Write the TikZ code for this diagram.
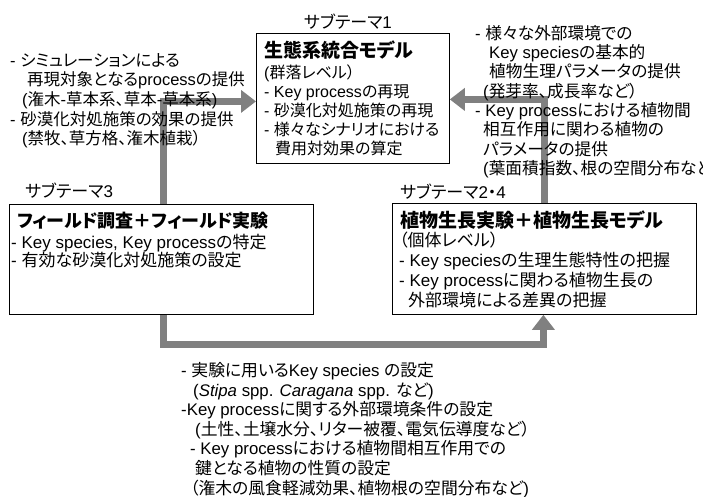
\documentclass[tikz,border=0pt]{standalone}
\usepackage{fontspec}
\usetikzlibrary{arrows.meta,backgrounds}
\setmainfont{Liberation Sans}
\newfontfamily\jpfont[RawFeature=+palt]{Noto Sans CJK JP}
\newfontfamily\latinfont{Liberation Sans}
\XeTeXinterchartokenstate=1
\newXeTeXintercharclass\cjkcls
\newcount\cjkc
\def\setcjkrange#1#2{\cjkc=#1 \loop\XeTeXcharclass\cjkc=\cjkcls \ifnum\cjkc<#2 \advance\cjkc by 1 \repeat}
\setcjkrange{"3000}{"30FF}
\setcjkrange{"4E00}{"9FFF}
\setcjkrange{"FF00}{"FFEF}
\XeTeXinterchartoks 0 \cjkcls = {\jpfont}
\XeTeXinterchartoks 4095 \cjkcls = {\jpfont}
\XeTeXinterchartoks \cjkcls 0 = {\latinfont}
\XeTeXinterchartoks \cjkcls 4095 = {\latinfont}
\tikzset{
  box/.style={draw=black, line width=0.8pt, fill=white, inner sep=0pt, anchor=north west},
  flow/.style={draw=gray, line width=7pt, -{Triangle[length=15pt,width=22pt]}},
  txt/.style={inner sep=0pt, anchor=base west, align=left},
  ttl/.style={inner sep=0pt, anchor=base west, align=left, font=\fontsize{19}{22}\selectfont\bfseries},
  sub/.style={inner sep=0pt, anchor=base west, font=\fontsize{17}{20}\selectfont},
}
\begin{document}
\begin{tikzpicture}[x=1pt,y=-1pt]
\useasboundingbox (0,0) rectangle (703,496);
% boxes
\node[box, minimum width=193pt, minimum height=130pt] (b1) at (256,33) {};
\node[box, minimum width=304pt, minimum height=110pt] (b3) at (9,204) {};
\node[box, minimum width=304pt, minimum height=111pt] (b2) at (392,203) {};
% connectors
\begin{scope}[on background layer]
\fill[white] (0,0) rectangle (703,496);
\draw[flow] ([xshift=2pt]b3.north) |- ([yshift=-3pt]b1.west);
\draw[flow] (b2.north) |- ([yshift=-1pt]b1.east);
\draw[flow] ([xshift=2pt]b3.south) -- ++(0,30) -| ([xshift=-1pt]b2.south);
\end{scope}
% sub-theme labels
\node[sub, anchor=base] (s1) at (348,28.5) {サブテーマ1};
\node[sub] (s3) at (25,197) {サブテーマ3};
\node[sub] (s24) at (400,198.5) {サブテーマ2・4};
% box 1 (multi-line nodes: base anchor = last line)
\node[ttl] (t1) at (264,57.2) {生態系統合モデル};
\node[txt, font=\fontsize{16}{19}\selectfont] (c1) at (264,154.1) {(群落レベル）\\- Key processの再現\\- 砂漠化対処施策の再現\\- 様々なシナリオにおける\\\hspace*{11pt}費用対効果の算定};
% box 3
\node[ttl, font=\fontsize{18}{22}\selectfont\bfseries] (t3) at (17,227.2) {フィールド調査＋フィールド実験};
\node[txt, font=\fontsize{17}{18}\selectfont] (c3) at (11,266.5) {- Key species, Key processの特定\\- 有効な砂漠化対処施策の設定};
% box 2
\node[ttl] (t2) at (400,227.2) {植物生長実験＋植物生長モデル};
\node[txt, font=\fontsize{17}{20}\selectfont] (c2) at (399,306.6) {（個体レベル）\\- Key speciesの生理生態特性の把握\\- Key processに関わる植物生長の\\\hspace*{9pt}外部環境による差異の把握};
% left text
\node[txt, font=\fontsize{16.5}{19.6}\selectfont] (lt) at (10,144.7) {- シミュレーションによる\\\hspace*{17pt}再現対象となるprocessの提供\\\hspace*{12pt}(潅木-草本系、草本-草本系)\\- 砂漠化対処施策の効果の提供\\\hspace*{12pt}(禁牧、草方格、潅木植栽）};
% right text
\node[txt, font=\fontsize{16.7}{19.3}\selectfont] (rt) at (475,174.4) {- 様々な外部環境での\\\hspace*{14pt}Key speciesの基本的\\\hspace*{14pt}植物生理パラメータの提供\\\hspace*{8pt}(発芽率、成長率など）\\- Key processにおける植物間\\\hspace*{8pt}相互作用に関わる植物の\\\hspace*{8pt}パラメータの提供\\\hspace*{8pt}(葉面積指数、根の空間分布など};
% bottom text
\node[txt, font=\fontsize{16.8}{19.6}\selectfont] (bt) at (181,494) {- 実験に用いるKey species の設定\\\hspace*{12pt}(\textit{Stipa} spp. \textit{Caragana} spp. など)\\-Key processに関する外部環境条件の設定\\\hspace*{14pt}(土性、土壌水分、リター被覆、電気伝導度など）\\\hspace*{9pt}- Key processにおける植物間相互作用での\\\hspace*{14pt}鍵となる植物の性質の設定\\\hspace*{9pt}（潅木の風食軽減効果、植物根の空間分布など)};
\end{tikzpicture}
\end{document}
